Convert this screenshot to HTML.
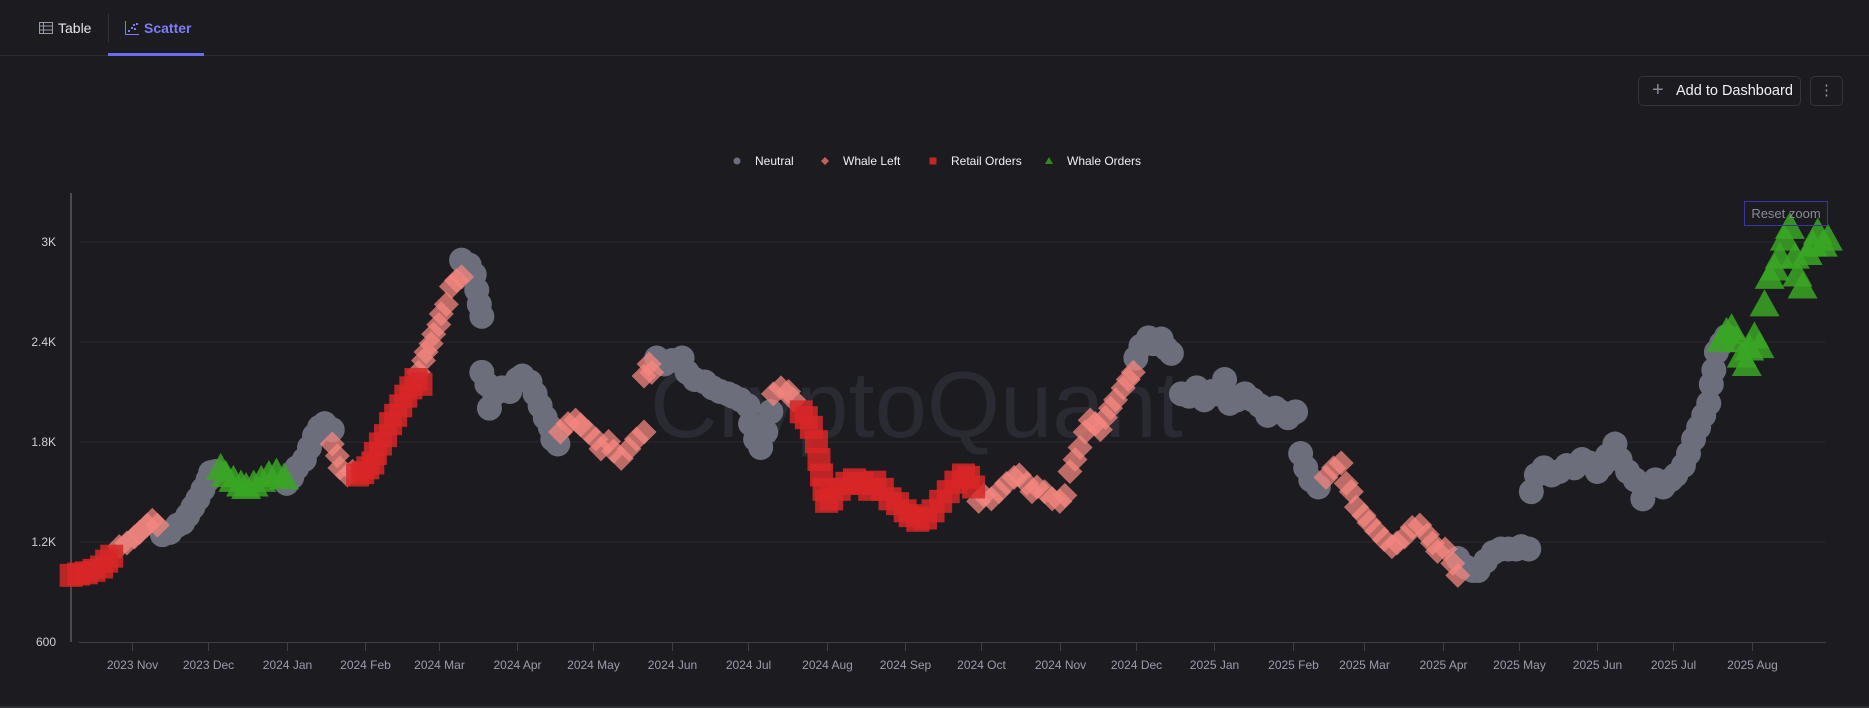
<!DOCTYPE html>
<html><head><meta charset="utf-8">
<style>
html,body{margin:0;padding:0;background:#1b1b20;width:1869px;height:708px;overflow:hidden;font-family:"Liberation Sans",sans-serif;}
#root{position:relative;width:1869px;height:708px;}
.hdr{position:absolute;left:0;top:0;width:1869px;height:55px;border-bottom:1px solid #2c2c33;}
.tab{position:absolute;top:18px;font-size:14px;height:20px;line-height:20px;}
.btn{position:absolute;top:76px;height:30px;border:1px solid #34343c;border-radius:5px;box-sizing:border-box;color:#f2f2f5;font-size:14.5px;line-height:28px;}
svg{position:absolute;left:0;top:0;}
</style></head>
<body>
<div id="root">
  <div class="hdr">
    <div class="tab" style="left:39px;color:#e6e6ea">
      <svg width="14" height="12" style="position:absolute;left:0;top:4px"><rect x="0.5" y="0.5" width="13" height="11" fill="none" stroke="#9a9aa6"/><line x1="0" y1="4" x2="14" y2="4" stroke="#9a9aa6"/><line x1="0" y1="8" x2="14" y2="8" stroke="#9a9aa6"/><line x1="4.5" y1="0" x2="4.5" y2="12" stroke="#9a9aa6"/></svg>
      <span style="position:absolute;left:19px;white-space:nowrap">Table</span>
    </div>
    <div style="position:absolute;left:108px;top:14px;width:1px;height:28px;background:#33333b"></div>
    <div class="tab" style="left:125px;color:#7c7df6;font-weight:bold">
      <svg width="14" height="14" style="position:absolute;left:0;top:3px"><path d="M0.5 0 V13.5 H14" fill="none" stroke="#7c7df6"/><rect x="3" y="9" width="2" height="2" fill="#7c7df6"/><rect x="6" y="6" width="2" height="2" fill="#7c7df6"/><rect x="9" y="7" width="2" height="2" fill="#7c7df6"/><rect x="11" y="2" width="2" height="2" fill="#7c7df6"/><rect x="8" y="3" width="2" height="2" fill="#7c7df6"/></svg>
      <span style="position:absolute;left:19px;white-space:nowrap">Scatter</span>
    </div>
    <div style="position:absolute;left:108px;top:53px;width:96px;height:3px;background:#6b6cf0"></div>
  </div>
  <div class="btn" style="left:1638px;width:163px">
    <span style="position:absolute;left:13px;top:-1px;color:#8a8a96;font-size:20px">+</span>
    <span style="position:absolute;left:37px;white-space:nowrap">Add to Dashboard</span>
  </div>
  <div class="btn" style="left:1810px;width:33px;text-align:center;color:#9a9aa6">⋮</div>

  <svg id="chart" width="1869" height="708"></svg>
  <div style="position:absolute;left:0;top:706px;width:1869px;height:2px;background:#2c2c33"></div>
</div>
<script>
// ---------- data ----------
const neutralDates = ["2023-11-13","2023-11-16","2023-11-19","2023-11-21","2023-11-23","2023-11-25","2023-11-27","2023-11-29","2023-12-01","2023-12-02","2023-12-04",
"2024-01-01","2024-01-03","2024-01-05","2024-01-08","2024-01-10","2024-01-12","2024-01-14","2024-01-16","2024-01-19",
"2024-03-10","2024-03-13","2024-03-15","2024-03-16","2024-03-17","2024-03-18",
"2024-03-18","2024-03-20","2024-03-21","2024-03-23","2024-03-26","2024-03-29","2024-04-01","2024-04-03","2024-04-06","2024-04-08","2024-04-10","2024-04-12","2024-04-14","2024-04-15","2024-04-17",
"2024-05-26","2024-05-29","2024-06-01","2024-06-05","2024-06-07","2024-06-10","2024-06-14","2024-06-17","2024-06-20","2024-06-23","2024-06-25","2024-06-28","2024-07-01","2024-07-02","2024-07-04","2024-07-06","2024-07-08","2024-07-10",
"2024-12-01","2024-12-03","2024-12-06","2024-12-08","2024-12-11","2024-12-13","2024-12-15","2024-12-19","2024-12-22","2024-12-25","2024-12-28","2024-12-31","2025-01-02","2025-01-05","2025-01-07","2025-01-10","2025-01-13","2025-01-16","2025-01-19","2025-01-22","2025-01-25","2025-01-27","2025-01-30","2025-02-02","2025-02-04","2025-02-06","2025-02-08","2025-02-11",
"2025-04-07","2025-04-10","2025-04-13","2025-04-15","2025-04-18","2025-04-21","2025-04-24","2025-04-27","2025-04-30","2025-05-02","2025-05-05",
"2025-05-06","2025-05-08","2025-05-11","2025-05-14","2025-05-17","2025-05-20","2025-05-23","2025-05-26","2025-05-29","2025-06-01","2025-06-03","2025-06-05","2025-06-08","2025-06-10","2025-06-13","2025-06-16","2025-06-19","2025-06-21","2025-06-24","2025-06-27","2025-06-30","2025-07-02","2025-07-05","2025-07-07","2025-07-09","2025-07-11","2025-07-13","2025-07-15","2025-07-16","2025-07-17","2025-07-18","2025-07-20","2025-07-22"];
const neutralValues = [1244,1258,1301,1316,1359,1409,1459,1516,1573,1616,1623,
1552,1588,1645,1695,1767,1838,1888,1910,1874,
2891,2862,2805,2712,2626,2554,
2218,2146,2003,2089,2125,2103,2175,2196,2160,2089,2017,1946,1888,1817,1788,
2304,2268,2289,2304,2218,2175,2160,2125,2103,2089,2075,2053,2017,1910,1817,1767,1860,1982,
2304,2375,2425,2390,2418,2361,2332,2089,2075,2125,2053,2103,2089,2175,2032,2053,2089,2053,2017,1960,2003,1981,1946,1981,1731,1645,1573,1530,
1101,1051,1029,1029,1086,1137,1158,1158,1158,1172,1158,
1502,1602,1645,1602,1623,1659,1645,1695,1674,1623,1659,1717,1788,1695,1623,1573,1459,1530,1573,1530,1573,1602,1659,1731,1817,1888,1960,2032,2146,2232,2340,2390,2433];

const whaleLeftDates = ["2023-10-27","2023-10-30","2023-11-02","2023-11-04","2023-11-07","2023-11-09","2023-11-11",
"2024-01-19","2024-01-21","2024-01-22","2024-01-25","2024-01-27",
"2024-02-22","2024-02-24","2024-02-25","2024-02-27","2024-02-28","2024-03-01","2024-03-02","2024-03-04","2024-03-06","2024-03-08","2024-03-10",
"2024-04-18","2024-04-21","2024-04-24","2024-04-26","2024-04-29","2024-05-02","2024-05-04","2024-05-07","2024-05-09","2024-05-12","2024-05-15","2024-05-18","2024-05-21",
"2024-05-21","2024-05-23","2024-05-24",
"2024-07-11","2024-07-14","2024-07-17","2024-07-19",
"2024-09-30","2024-10-02","2024-10-05","2024-10-08","2024-10-11","2024-10-14","2024-10-16","2024-10-19","2024-10-21","2024-10-23","2024-10-26","2024-10-29","2024-11-01","2024-11-03",
"2024-11-05","2024-11-07","2024-11-09","2024-11-11","2024-11-13","2024-11-15","2024-11-17","2024-11-19","2024-11-21","2024-11-23","2024-11-26","2024-11-28","2024-11-30",
"2025-02-14","2025-02-17","2025-02-20","2025-02-22","2025-02-24","2025-02-26","2025-03-01","2025-03-03","2025-03-06","2025-03-09","2025-03-12","2025-03-14","2025-03-17","2025-03-20","2025-03-23","2025-03-26","2025-03-28","2025-03-30","2025-04-02","2025-04-05","2025-04-07"];
const whaleLeftValues = [1172,1194,1230,1258,1301,1330,1301,
1788,1717,1645,1602,1623,
2218,2289,2340,2390,2447,2504,2569,2626,2733,2769,2791,
1860,1910,1931,1903,1860,1817,1759,1803,1745,1702,1759,1817,1860,
2196,2268,2218,
2089,2125,2103,2053,
1444,1480,1459,1502,1552,1588,1602,1552,1502,1530,1502,1459,1444,1480,
1623,1695,1767,1860,1931,1910,1874,1946,2003,2053,2125,2175,2218,
1588,1645,1674,1552,1502,1409,1359,1316,1265,1215,1172,1194,1230,1287,1301,1244,1194,1144,1158,1072,1000];

const retailDates = ["2023-10-08","2023-10-11","2023-10-14","2023-10-17","2023-10-20","2023-10-22","2023-10-24",
"2024-01-29","2024-01-31","2024-02-02","2024-02-04","2024-02-05","2024-02-07","2024-02-09","2024-02-11","2024-02-13","2024-02-15","2024-02-17","2024-02-19","2024-02-21","2024-02-23",
"2024-07-22","2024-07-24","2024-07-26","2024-07-28","2024-07-29","2024-07-30","2024-07-31","2024-08-01","2024-08-03","2024-08-06","2024-08-09","2024-08-12","2024-08-15","2024-08-18","2024-08-20","2024-08-23","2024-08-26","2024-08-29","2024-09-01","2024-09-03","2024-09-06","2024-09-09","2024-09-12","2024-09-15","2024-09-18","2024-09-21","2024-09-24","2024-09-26","2024-09-28"];
const retailValues = [1000,1008,1015,1030,1050,1085,1115,
1602,1616,1645,1674,1731,1788,1838,1910,1960,2017,2075,2125,2175,2146,
1981,1946,1888,1802,1695,1602,1516,1444,1459,1516,1552,1573,1552,1516,1559,1516,1459,1430,1387,1358,1330,1344,1387,1444,1502,1559,1602,1588,1530];

const whaleOrderDates = ["2023-12-06","2023-12-08","2023-12-11","2023-12-14","2023-12-16","2023-12-19","2023-12-22","2023-12-25","2023-12-28","2023-12-31",
"2025-07-20","2025-07-22","2025-07-24","2025-07-26","2025-07-28","2025-07-30","2025-07-31","2025-08-02","2025-08-04","2025-08-06","2025-08-08","2025-08-10","2025-08-12","2025-08-14","2025-08-16","2025-08-18","2025-08-19","2025-08-21","2025-08-23","2025-08-25","2025-08-27","2025-08-29","2025-08-31"];
const whaleOrderValues = [1645,1602,1573,1545,1530,1545,1573,1602,1616,1588,
2411,2461,2483,2411,2318,2268,2361,2433,2375,2626,2791,2841,2912,3020,3091,2912,2805,2733,2934,2984,3056,2984,3020];

const yTicks = [600,1200,1800,2400,3000];
const yTickLabels = ["600","1.2K","1.8K","2.4K","3K"];
const xTickDates = ["2023-11-01","2023-12-01","2024-01-01","2024-02-01","2024-03-01","2024-04-01","2024-05-01","2024-06-01","2024-07-01","2024-08-01","2024-09-01","2024-10-01","2024-11-01","2024-12-01","2025-01-01","2025-02-01","2025-03-01","2025-04-01","2025-05-01","2025-06-01","2025-07-01","2025-08-01"];
const xTickLabels = ["2023 Nov","2023 Dec","2024 Jan","2024 Feb","2024 Mar","2024 Apr","2024 May","2024 Jun","2024 Jul","2024 Aug","2024 Sep","2024 Oct","2024 Nov","2024 Dec","2025 Jan","2025 Feb","2025 Mar","2025 Apr","2025 May","2025 Jun","2025 Jul","2025 Aug"];

// ---------- scales ----------
const NS="http://www.w3.org/2000/svg";
const svg=document.getElementById('chart');
const T0=Date.UTC(2023,10,1);
function xScale(d){const p=d.split('-');const t=Date.UTC(+p[0],+p[1]-1,+p[2]);return 132+(t-T0)/86400000*2.535;}
function yScale(v){return 642-(v-600)/6;}
function mk(tag,attrs,parent){const e=document.createElementNS(NS,tag);for(const k in attrs)e.setAttribute(k,attrs[k]);(parent||svg).appendChild(e);return e;}

yTicks.forEach((v,i)=>{
  const y=yScale(v);
  if(i>0){const g=mk('line',{x1:79,x2:1826,y1:y,y2:y,stroke:'#2a2a31','stroke-width':1});
  
  }
  const t=mk('text',{x:56,y:y+4,'text-anchor':'end',fill:'#d0d0d8','font-size':12,'font-family':'Liberation Sans, sans-serif'});
  t.textContent=yTickLabels[i];
  
  
});
const yax=mk('line',{x1:71,x2:71,y1:193,y2:642,stroke:'#4a4a55','stroke-width':2});


const xax=mk('line',{x1:79,x2:1826,y1:642.5,y2:642.5,stroke:'#3f3f48','stroke-width':1});


xTickDates.forEach((d,i)=>{
  const x=Math.round(xScale(d))+0.5;
  const tk=mk('line',{x1:x,x2:x,y1:643,y2:651,stroke:'#3f3f48'});
  
  
  const t=mk('text',{x:x,y:669,'text-anchor':'middle',fill:'#9c9cab','font-size':12,'font-family':'Liberation Sans, sans-serif'});
  t.textContent=xTickLabels[i];
  
  
});

const wm=mk('text',{x:650,y:437,fill:'#2a2b32','font-size':94,'font-family':'Liberation Sans, sans-serif'});
wm.textContent='CryptoQuant';



function circle(g,x,y){const e=mk('circle',{cx:x,cy:y,r:12.5,fill:'#6d6e7c'},g);
  
  }
function diamond(g,x,y){const s=12.5;const e=mk('path',{d:`M${x} ${y-s}L${x+s} ${y}L${x} ${y+s}L${x-s} ${y}Z`,fill:'#f4877f','fill-opacity':0.75},g);
  
  }
function square(g,x,y){const e=mk('rect',{x:x-11.5,y:y-11.5,width:23,height:23,fill:'#d82728','fill-opacity':0.85},g);
  
  }
function tri(g,x,y){const e=mk('path',{d:`M${x} ${y-15}L${x+15} ${y+12}L${x-15} ${y+12}Z`,fill:'#3aa624','fill-opacity':0.85},g);
  
  }

const gN=mk('g',{});
neutralDates.forEach((d,i)=>circle(gN,xScale(d),yScale(neutralValues[i])));
const gW=mk('g',{});
whaleLeftDates.forEach((d,i)=>diamond(gW,xScale(d),yScale(whaleLeftValues[i])));
const gR=mk('g',{});
retailDates.forEach((d,i)=>square(gR,xScale(d),yScale(retailValues[i])));
const gO=mk('g',{});
whaleOrderDates.forEach((d,i)=>tri(gO,xScale(d),yScale(whaleOrderValues[i])));

const lg=mk('g',{});
const leg=[["Neutral",737,'c'],["Whale Left",825,'d'],["Retail Orders",933,'s'],["Whale Orders",1049,'t']];
leg.forEach(l=>{
  const it=mk('g',{},lg);
  
  
  const x=l[1],y=161;
  if(l[2]=='c')mk('circle',{cx:x,cy:y,r:3.5,fill:'#6d6e7c'},it);
  if(l[2]=='d')mk('path',{d:`M${x} ${y-4}L${x+4} ${y}L${x} ${y+4}L${x-4} ${y}Z`,fill:'#c0625c'},it);
  if(l[2]=='s')mk('rect',{x:x-3.5,y:y-3.5,width:7,height:7,fill:'#c62426'},it);
  if(l[2]=='t')mk('path',{d:`M${x} ${y-4}L${x+4} ${y+3}L${x-4} ${y+3}Z`,fill:'#2f8a1f'},it);
  const t=mk('text',{x:x+18,y:y+4,fill:'#f0f0f4','font-size':12,'font-family':'Liberation Sans, sans-serif'},it);
  t.textContent=l[0];
});

const rz=mk('g',{});
mk('rect',{x:1744.5,y:201.5,width:83,height:24,fill:'none',stroke:'#3c35a0'},rz);
const rzt=mk('text',{x:1786,y:218,'text-anchor':'middle',fill:'#8a8a9a','font-size':13,'font-family':'Liberation Sans, sans-serif'},rz);
rzt.textContent='Reset zoom';
</script>
</body></html>
